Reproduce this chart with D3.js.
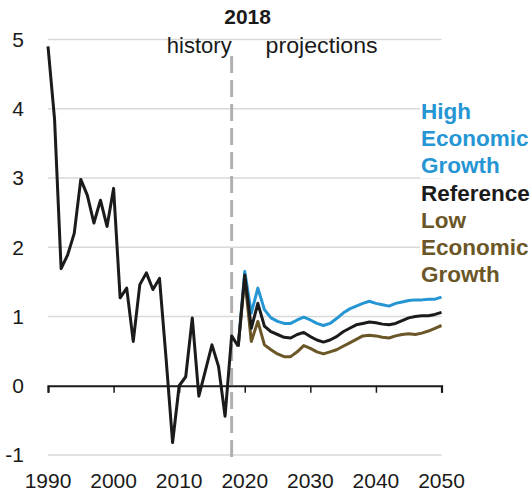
<!DOCTYPE html>
<html><head><meta charset="utf-8">
<script src="https://cdn.jsdelivr.net/npm/d3@7"></script>
<style>body{margin:0;background:#fff}svg{display:block;font-family:"Liberation Sans",Arial,sans-serif}</style>
</head><body><svg id="c" width="532" height="494"></svg>
<script>
const historyYears = d3.range(1990, 2020);
const historyValues = [4.9,3.85,1.69,1.89,2.2,2.98,2.75,2.35,2.68,2.3,2.85,1.27,1.41,0.64,1.46,1.63,1.39,1.55,0.4,-0.82,0.0,0.13,0.98,-0.15,0.22,0.59,0.28,-0.44,0.72,0.57];
const projYears = d3.range(2019, 2051);
const highValues = [0.57,1.65,1.05,1.41,1.10,0.98,0.93,0.90,0.90,0.95,0.99,0.95,0.90,0.87,0.90,0.97,1.05,1.11,1.15,1.19,1.22,1.19,1.17,1.15,1.19,1.21,1.23,1.24,1.24,1.25,1.25,1.28];
const refValues = [0.57,1.60,0.83,1.19,0.86,0.78,0.74,0.70,0.69,0.74,0.77,0.71,0.66,0.63,0.66,0.71,0.78,0.83,0.88,0.90,0.92,0.91,0.89,0.88,0.90,0.94,0.98,1.00,1.01,1.01,1.03,1.06];
const lowValues = [0.57,1.55,0.64,0.93,0.59,0.52,0.46,0.42,0.42,0.49,0.58,0.54,0.49,0.46,0.49,0.52,0.57,0.62,0.67,0.72,0.73,0.72,0.70,0.69,0.72,0.74,0.75,0.74,0.76,0.79,0.83,0.87];
const yTicks = [-1,0,1,2,3,4,5];
const xTicks = [1990,2000,2010,2020,2030,2040,2050];
const seriesNames = ["High Economic Growth","Reference","Low Economic Growth"];
const legendLines = [["High","Economic","Growth"],["Reference"],["Low","Economic","Growth"]];
const colors = ["#2596d3","#1b1b1b","#6b5627"];

const svg = d3.select("#c");
const x = d3.scaleLinear().domain([1990,2050]).range([48,441.5]);
const y = d3.scaleLinear().domain([-1,5]).range([455,39.5]);
const FS = 21;

svg.append("g").selectAll("line").data(yTicks.filter(d=>d!==0)).join("line")
  .attr("x1",x(1990)).attr("x2",x(2050)).attr("y1",d=>y(d)).attr("y2",d=>y(d))
  .attr("stroke","#d9d9d9").attr("stroke-width",1.5);

svg.append("g").selectAll("text").data(yTicks).join("text")
  .attr("x",24).attr("y",d=>y(d)).attr("dy","0.35em").attr("text-anchor","end")
  .attr("font-size",FS).attr("fill","#1a1a1a").text(d=>d);

const xAxis = d3.axisBottom(x).tickValues(xTicks).tickSize(7).tickFormat("");
const ax = svg.append("g").attr("transform",`translate(0,${y(0)})`).call(xAxis);
ax.select(".domain").attr("stroke","#1a1a1a").attr("stroke-width",2.2);
ax.selectAll(".tick line").attr("stroke","#1a1a1a").attr("stroke-width",1.5);

svg.append("g").selectAll("text").data(xTicks).join("text")
  .attr("x",d=>x(d)).attr("y",488).attr("text-anchor","middle")
  .attr("font-size",FS).attr("fill","#1a1a1a").text(d=>d);

svg.append("line").attr("x1",x(2018)).attr("x2",x(2018)).attr("y1",56).attr("y2",461)
  .attr("stroke","#b0b0b0").attr("stroke-width",3).attr("stroke-dasharray","17,7");

svg.append("text").attr("x",x(2018)+16).attr("y",24).attr("text-anchor","middle")
  .attr("font-size",21).attr("font-weight","bold").attr("fill","#1a1a1a").text("2018");
svg.append("text").attr("x",x(2018)).attr("y",53).attr("text-anchor","end")
  .attr("font-size",22).attr("fill","#1a1a1a").text("history");
svg.append("text").attr("x",x(2018)+34).attr("y",53).attr("text-anchor","start")
  .attr("font-size",22).attr("textLength",112).attr("lengthAdjust","spacingAndGlyphs")
  .attr("fill","#1a1a1a").text("projections");

const line = d3.line().x(d=>x(d[0])).y(d=>y(d[1]));
const proj = [highValues, lowValues, refValues];
const projColors = [colors[0], colors[2], colors[1]];
proj.forEach((vals,i)=>{
  svg.append("path").datum(projYears.map((yr,j)=>[yr,vals[j]]))
    .attr("d",line).attr("fill","none").attr("stroke",projColors[i])
    .attr("stroke-width",3).attr("stroke-linejoin","round");
});
svg.append("path").datum(historyYears.map((yr,j)=>[yr,historyValues[j]]))
  .attr("d",line).attr("fill","none").attr("stroke","#1b1b1b")
  .attr("stroke-width",3).attr("stroke-linejoin","round");

const lg = svg.append("g");
let row = 0;
legendLines.forEach((lines,i)=>{
  lines.forEach(t=>{
    const bl = 119 + row*27.2;
    const tx = lg.append("text").attr("x",421).attr("y",bl)
      .attr("font-size",22.5).attr("font-weight","bold").attr("fill",colors[i]).text(t);
    const bb = tx.node().getBBox();
    lg.insert("rect","text").attr("x",bb.x-1).attr("y",bb.y).attr("width",bb.width+2).attr("height",bb.height).attr("fill","#fff");
    row++;
  });
});
</script></body></html>
